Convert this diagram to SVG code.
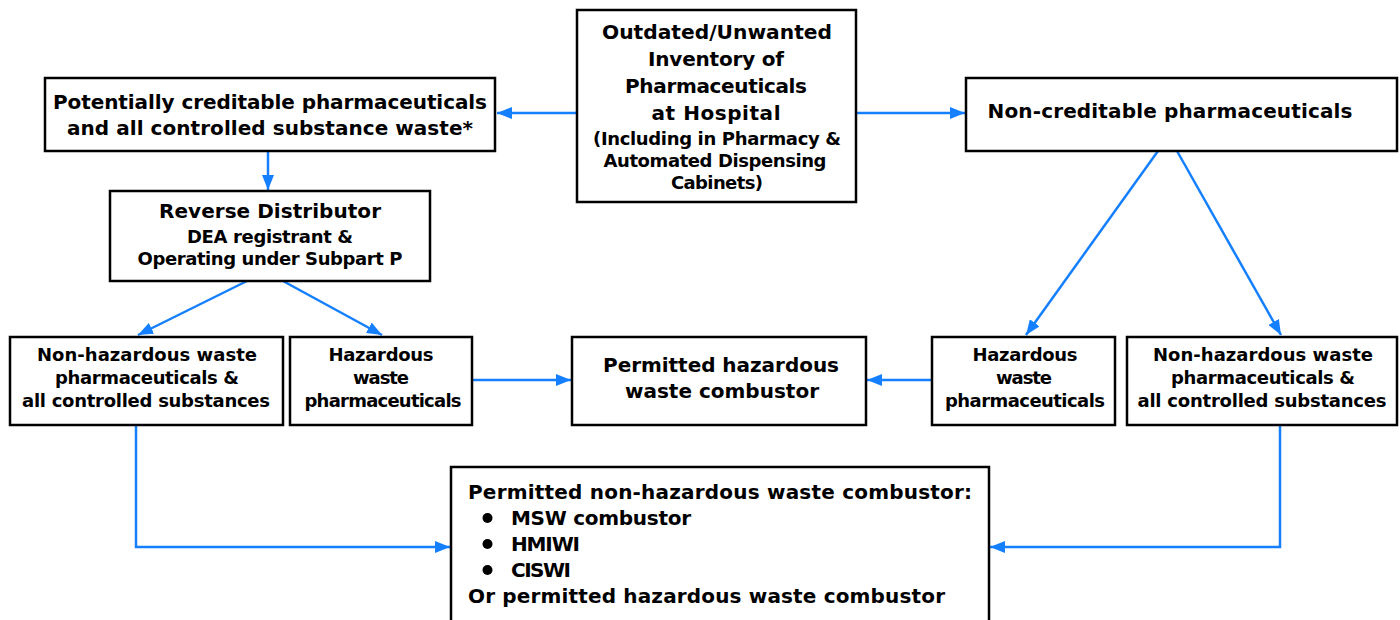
<svg xmlns="http://www.w3.org/2000/svg" width="1400" height="620" viewBox="0 0 1400 620">
<style>
.box{fill:#fff;stroke:#000;stroke-width:2.5}
text{font-family:"DejaVu Sans","Liberation Sans",sans-serif;font-weight:bold;fill:#000}
.l{font-size:20px;text-anchor:middle}
.s{font-size:18px;text-anchor:middle}
.b{font-size:20px}
.c{stroke:#1580ff;stroke-width:2.5;fill:none}
</style>
<defs>
<marker id="a" viewBox="0 0 15 12" refX="15" refY="6" markerWidth="15" markerHeight="12" markerUnits="userSpaceOnUse" orient="auto">
<path d="M0,0 L15,6 L0,12 z" fill="#1580ff"/>
</marker>
</defs>
<g id="connectors">
<line class="c" x1="577" y1="113" x2="497" y2="113" marker-end="url(#a)"/>
<line class="c" x1="856" y1="113" x2="965" y2="113" marker-end="url(#a)"/>
<line class="c" x1="268" y1="151" x2="268" y2="190" marker-end="url(#a)"/>
<line class="c" x1="247" y1="281" x2="138" y2="335" marker-end="url(#a)"/>
<line class="c" x1="283" y1="281" x2="382" y2="335" marker-end="url(#a)"/>
<line class="c" x1="472" y1="380" x2="571" y2="380" marker-end="url(#a)"/>
<line class="c" x1="932" y1="380" x2="867" y2="380" marker-end="url(#a)"/>
<line class="c" x1="1158" y1="151" x2="1026" y2="335" marker-end="url(#a)"/>
<line class="c" x1="1177" y1="151" x2="1281" y2="335" marker-end="url(#a)"/>
<polyline class="c" points="136,425 136,547 450,547" marker-end="url(#a)"/>
<polyline class="c" points="1280,425 1280,547 990,547" marker-end="url(#a)"/>
</g>
<g id="inventory">
<rect class="box" x="577" y="10" width="279" height="192"/>
<text class="l" x="717" y="39" textLength="230" lengthAdjust="spacingAndGlyphs">Outdated/Unwanted</text>
<text class="l" x="716" y="66" textLength="136">Inventory of</text>
<text class="l" x="716" y="93" textLength="182">Pharmaceuticals</text>
<text class="l" x="716" y="120" textLength="129">at Hospital</text>
<text class="s" x="717" y="145" textLength="248">(Including in Pharmacy &amp;</text>
<text class="s" x="715" y="167" textLength="223">Automated Dispensing</text>
<text class="s" x="717" y="189" textLength="92">Cabinets)</text>
</g>
<g id="creditable">
<rect class="box" x="45" y="78" width="450" height="73"/>
<text class="l" x="270" y="109" textLength="434">Potentially creditable pharmaceuticals</text>
<text class="l" x="270" y="135" textLength="406">and all controlled substance waste*</text>
</g>
<g id="noncreditable">
<rect class="box" x="966" y="78" width="431" height="73"/>
<text class="l" x="1170" y="118" textLength="365">Non-creditable pharmaceuticals</text>
</g>
<g id="reverse">
<rect class="box" x="110" y="191" width="320" height="90"/>
<text class="l" x="270" y="218" textLength="222">Reverse Distributor</text>
<text class="s" x="270" y="243" textLength="166">DEA registrant &amp;</text>
<text class="s" x="270" y="265" textLength="265">Operating under Subpart P</text>
</g>
<g id="nonhaz-left">
<rect class="box" x="10" y="337" width="273" height="88"/>
<text class="s" x="147" y="361" textLength="220">Non-hazardous waste</text>
<text class="s" x="147" y="384" textLength="184">pharmaceuticals &amp;</text>
<text class="s" x="146" y="407" textLength="248">all controlled substances</text>
</g>
<g id="haz-left">
<rect class="box" x="290" y="337" width="182" height="88"/>
<text class="s" x="381" y="361" textLength="105">Hazardous</text>
<text class="s" x="381" y="384" textLength="56">waste</text>
<text class="s" x="383" y="407" textLength="157">pharmaceuticals</text>
</g>
<g id="haz-combustor">
<rect class="box" x="572" y="337" width="294" height="88"/>
<text class="l" x="721" y="372" textLength="236">Permitted hazardous</text>
<text class="l" x="722" y="398" textLength="194">waste combustor</text>
</g>
<g id="haz-right">
<rect class="box" x="932" y="337" width="183" height="88"/>
<text class="s" x="1025" y="361" textLength="105">Hazardous</text>
<text class="s" x="1024" y="384" textLength="56">waste</text>
<text class="s" x="1025" y="407" textLength="160">pharmaceuticals</text>
</g>
<g id="nonhaz-right">
<rect class="box" x="1127" y="337" width="270" height="88"/>
<text class="s" x="1263" y="361" textLength="220">Non-hazardous waste</text>
<text class="s" x="1263" y="384" textLength="184">pharmaceuticals &amp;</text>
<text class="s" x="1262" y="407" textLength="249">all controlled substances</text>
</g>
<g id="nonhaz-combustor">
<rect class="box" x="451" y="467" width="538" height="170"/>
<text class="b" x="468" y="499" textLength="504">Permitted non-hazardous waste combustor:</text>
<circle cx="487.5" cy="518" r="5" fill="#000"/>
<text class="b" x="511" y="525" textLength="180">MSW combustor</text>
<circle cx="487.5" cy="544" r="5" fill="#000"/>
<text class="b" x="511" y="551" textLength="69">HMIWI</text>
<circle cx="487.5" cy="570" r="5" fill="#000"/>
<text class="b" x="511" y="577" textLength="60">CISWI</text>
<text class="b" x="468" y="603" textLength="477">Or permitted hazardous waste combustor</text>
</g>
</svg>
